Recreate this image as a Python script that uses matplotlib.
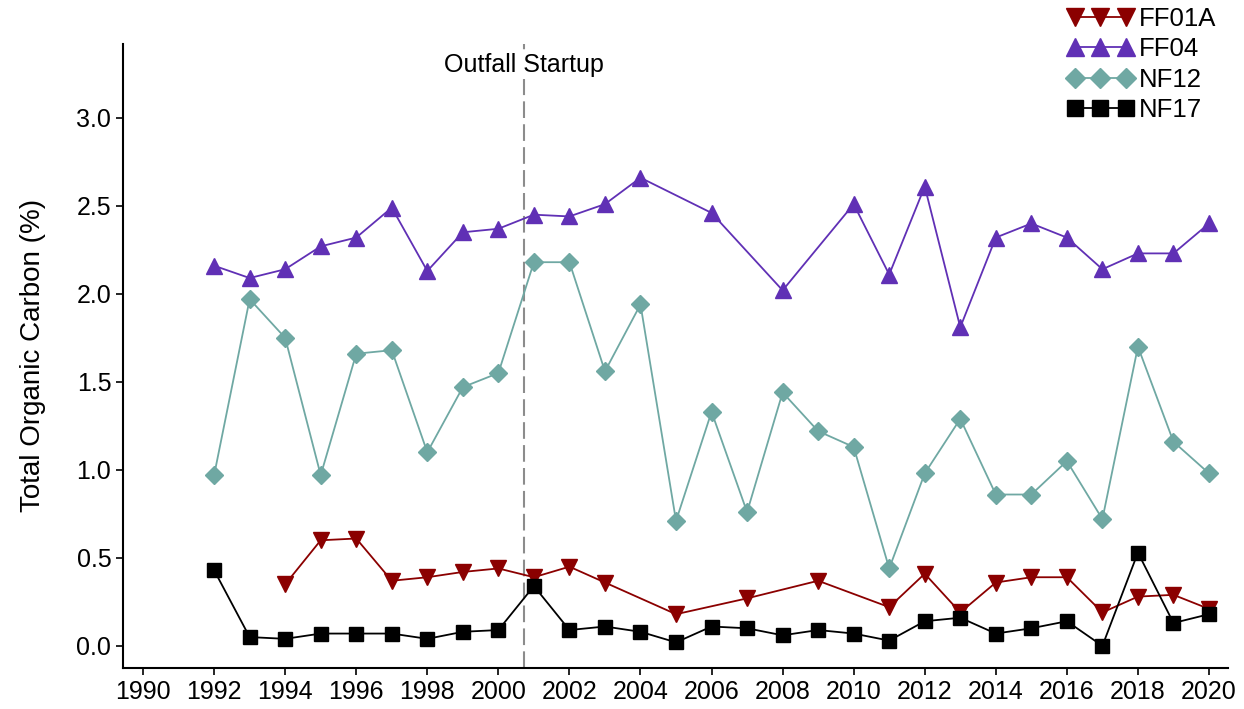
import matplotlib
matplotlib.use("Agg")
import matplotlib.pyplot as plt

plt.rcParams["font.family"] = ["Liberation Sans", "DejaVu Sans"]

# Total organic carbon (%) by station and survey year
ff01a_years = [1994, 1995, 1996, 1997, 1998, 1999, 2000, 2001, 2002, 2003, 2005, 2007,
               2009, 2011, 2012, 2013, 2014, 2015, 2016, 2017, 2018, 2019, 2020]
ff01a_toc = [0.35, 0.60, 0.61, 0.37, 0.39, 0.42, 0.44, 0.39, 0.45, 0.36, 0.18, 0.27,
             0.37, 0.22, 0.41, 0.19, 0.36, 0.39, 0.39, 0.19, 0.28, 0.29, 0.21]

ff04_years = [1992, 1993, 1994, 1995, 1996, 1997, 1998, 1999, 2000, 2001, 2002, 2003,
              2004, 2006, 2008, 2010, 2011, 2012, 2013, 2014, 2015, 2016, 2017, 2018,
              2019, 2020]
ff04_toc = [2.16, 2.09, 2.14, 2.27, 2.32, 2.49, 2.13, 2.35, 2.37, 2.45, 2.44, 2.51,
            2.66, 2.46, 2.02, 2.51, 2.11, 2.61, 1.81, 2.32, 2.40, 2.32, 2.14, 2.23,
            2.23, 2.40]

nf_years = list(range(1992, 2021))
nf12_toc = [0.97, 1.97, 1.75, 0.97, 1.66, 1.68, 1.10, 1.47, 1.55, 2.18, 2.18, 1.56,
            1.94, 0.71, 1.33, 0.76, 1.44, 1.22, 1.13, 0.44, 0.98, 1.29, 0.86, 0.86,
            1.05, 0.72, 1.70, 1.16, 0.98]
nf17_toc = [0.43, 0.05, 0.04, 0.07, 0.07, 0.07, 0.04, 0.08, 0.09, 0.34, 0.09, 0.11,
            0.08, 0.02, 0.11, 0.10, 0.06, 0.09, 0.07, 0.03, 0.14, 0.16, 0.07, 0.10,
            0.14, 0.00, 0.53, 0.13, 0.18]

startup_year = 2000.72
xticks = list(range(1990, 2021, 2))
yticks = [0.0, 0.5, 1.0, 1.5, 2.0, 2.5, 3.0]

fig = plt.figure(figsize=(12.44, 7.09), dpi=100)
ax = fig.add_axes([0.099, 0.058, 0.888, 0.88])

ax.plot(ff01a_years, ff01a_toc, color="#8B0000", marker="v", markersize=11, lw=1.3, label="FF01A")
ax.plot(ff04_years, ff04_toc, color="#6030B5", marker="^", markersize=11, lw=1.3, label="FF04")
ax.plot(nf_years, nf12_toc, color="#6FA8A3", marker="D", markersize=9, lw=1.3, label="NF12")
ax.plot(nf_years, nf17_toc, color="black", marker="s", markersize=10, lw=1.3, label="NF17")

ax.axvline(startup_year, color="#8C8C8C", lw=1.5, dashes=(8, 3), zorder=0)
ax.text(startup_year, 3.30, "Outfall Startup", ha="center", va="center", fontsize=18,
        bbox=dict(facecolor="white", edgecolor="none", pad=1))

ax.set_xlim(1989.44, 2020.53)
ax.set_ylim(-0.125, 3.42)
ax.set_xticks(xticks)
ax.set_yticks(yticks)
ax.set_yticklabels([f"{v:.1f}" for v in yticks])
ax.tick_params(axis="both", labelsize=18, length=5, width=1.2, direction="out")
ax.set_ylabel("Total Organic Carbon (%)", fontsize=20, labelpad=22)

for side in ["top", "right"]:
    ax.spines[side].set_visible(False)
for side in ["left", "bottom"]:
    ax.spines[side].set_linewidth(1.5)

fig.legend(loc="upper right", bbox_to_anchor=(0.99, 1.012), frameon=False, fontsize=18.5,
           numpoints=3, markerscale=1.15, handlelength=2.6, handletextpad=0.2,
           labelspacing=0.25, borderaxespad=0.2)

fig.savefig("out.png", dpi=100)
